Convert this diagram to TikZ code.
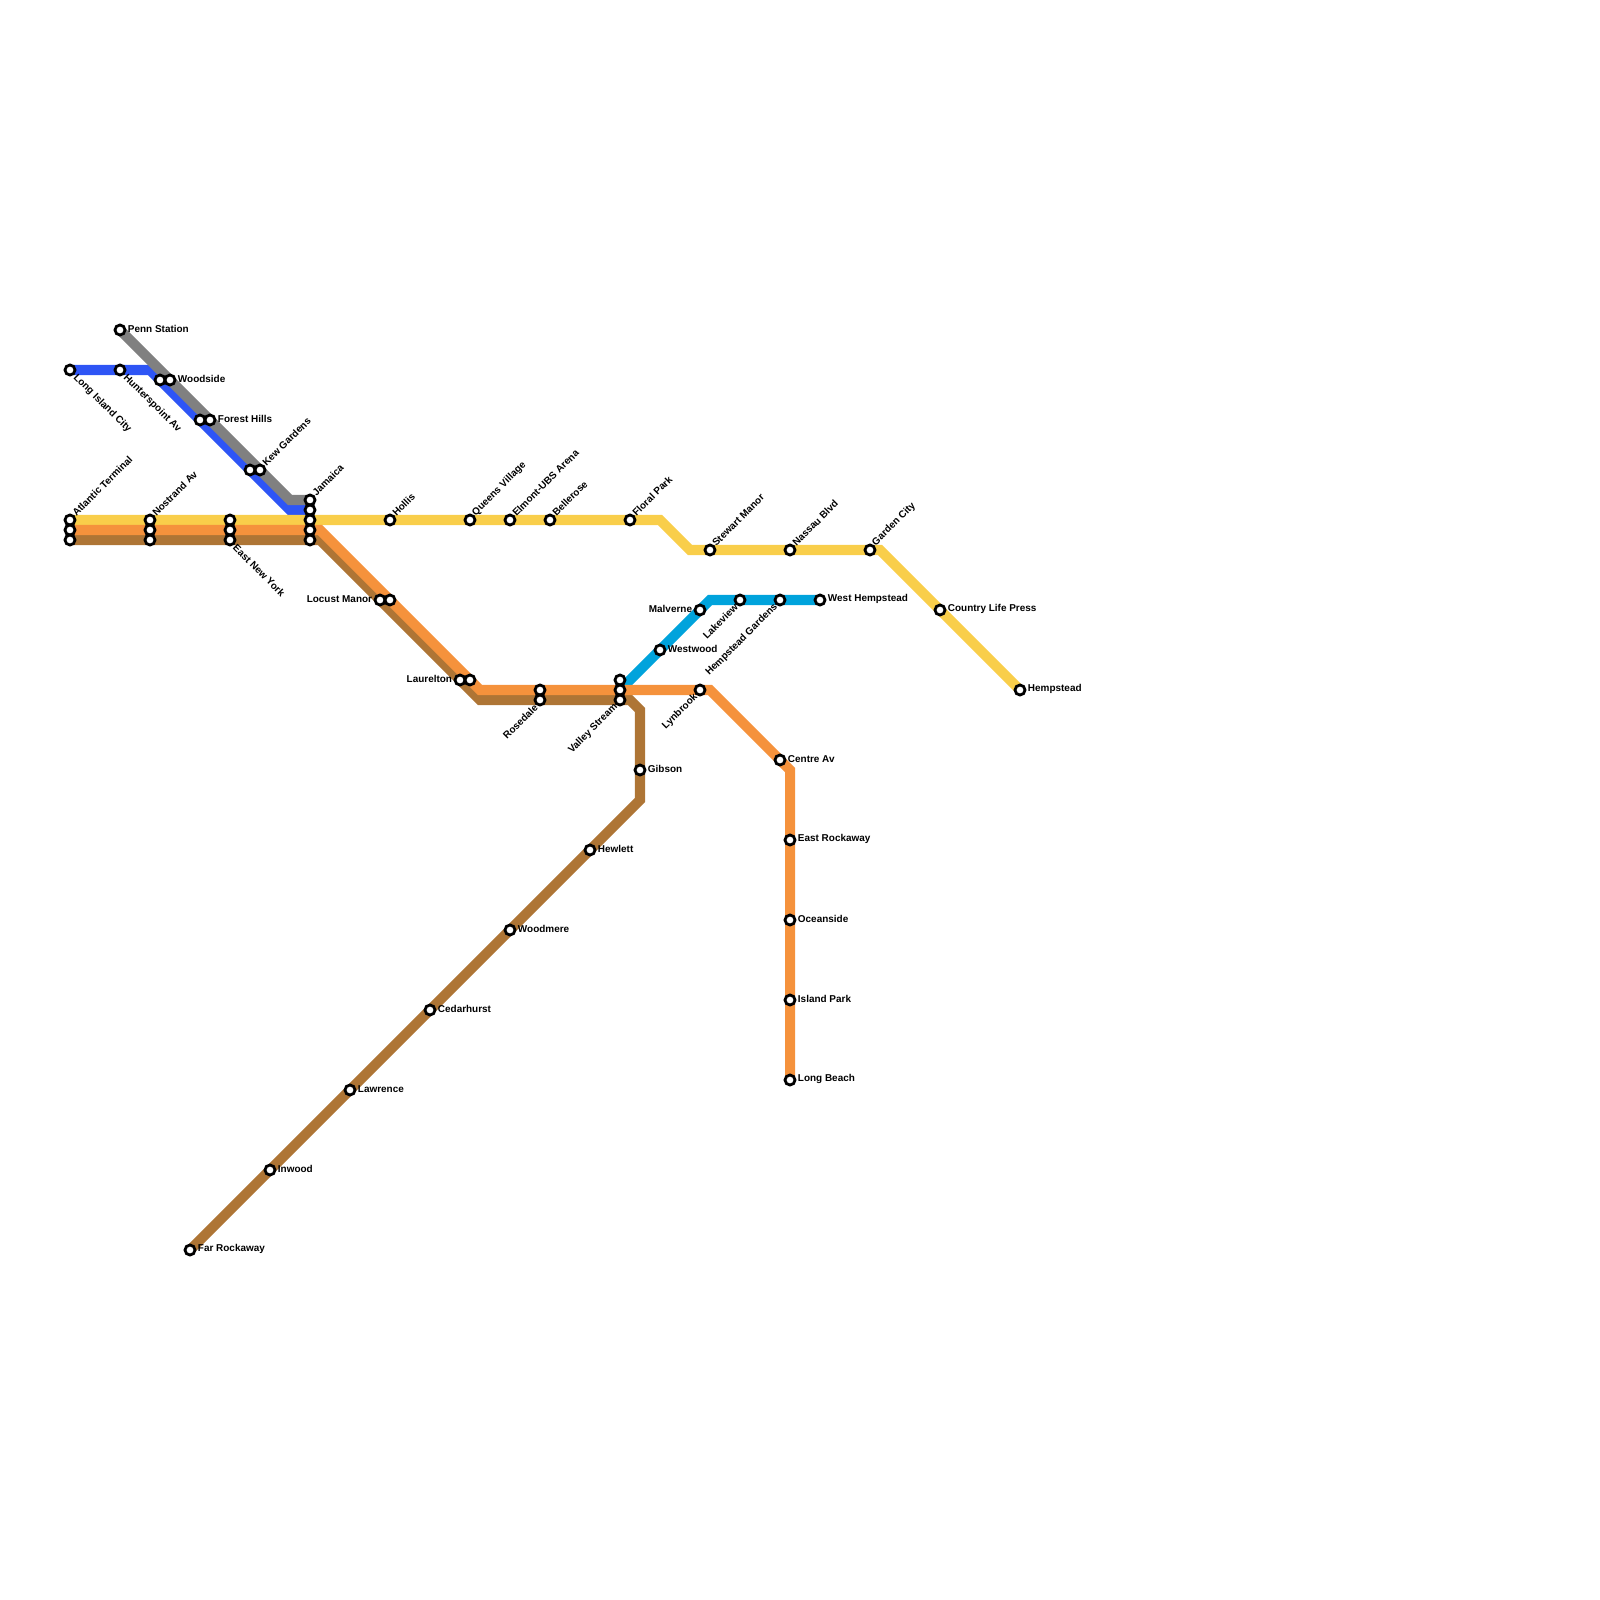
\documentclass[tikz,border=0pt]{standalone}
\usepackage{fontspec}
\setmainfont{Liberation Sans}
\usetikzlibrary{backgrounds}
\definecolor{lineYellow}{HTML}{F9CE4A}
\definecolor{lineOrange}{HTML}{F5923C}
\definecolor{lineBrown}{HTML}{AE7535}
\definecolor{lineBlue}{HTML}{2E55F5}
\definecolor{lineGray}{HTML}{808080}
\definecolor{lineCyan}{HTML}{00A3DC}
\begin{document}
\begin{tikzpicture}[
    x=0.01cm, y=-0.01cm,
    stn/.style={draw=black, fill=white, circle, line width=0.8pt, minimum size=0.1cm, inner sep=0pt, outer sep=0pt},
    route/.style={line width=2.85pt},
    lblE/.style={label={[lbl, anchor=west, xshift=0.0225cm, yshift=0.006cm]0:#1}},
    lblW/.style={label={[lbl, anchor=east, xshift=-0.0225cm, yshift=0.006cm]180:#1}},
    lblNE/.style={label={[lbl, rotate=45, anchor=west, xshift=0.012cm, yshift=0.012cm]45:#1}},
    lblSE/.style={label={[lbl, rotate=-45, anchor=west, xshift=0.022cm, yshift=-0.009cm]-45:#1}},
    lblSW/.style={label={[lbl, rotate=45, anchor=east, xshift=-0.012cm, yshift=-0.012cm]225:#1}},
    lbl/.style={inner sep=0pt, font=\fontsize{2.83}{3.4}\selectfont\bfseries}
  ]
    \useasboundingbox (0,0) rectangle (1600,1600);
    % stations, city end
    \node[stn, lblNE=Atlantic Terminal] (atlanticA) at (70,520) {};
    \node[stn] (atlanticB) at (70,530) {};
    \node[stn] (atlanticC) at (70,540) {};
    \node[stn, lblNE=Nostrand Av] (nostrandA) at (150,520) {};
    \node[stn] (nostrandB) at (150,530) {};
    \node[stn] (nostrandC) at (150,540) {};
    \node[stn] (enyA) at (230,520) {};
    \node[stn] (enyB) at (230,530) {};
    \node[stn, lblSE=East New York] (enyC) at (230,540) {};
    \node[stn, lblSE=Long Island City] (lic) at (70,370) {};
    \node[stn, lblSE=Hunterspoint Av] (hunters) at (120,370) {};
    \node[stn, lblE=Penn Station] (penn) at (120,330) {};
    \node[stn] (woodsideA) at (160,380) {};
    \node[stn, lblE=Woodside] (woodsideB) at (170,380) {};
    \node[stn] (forestA) at (200,420) {};
    \node[stn, lblE=Forest Hills] (forestB) at (210,420) {};
    \node[stn] (kewA) at (250,470) {};
    \node[stn, lblNE=Kew Gardens] (kewB) at (260,470) {};
    \node[stn, lblNE=Jamaica] (jamaicaA) at (310,500) {};
    \node[stn] (jamaicaB) at (310,510) {};
    \node[stn] (jamaicaC) at (310,520) {};
    \node[stn] (jamaicaD) at (310,530) {};
    \node[stn] (jamaicaE) at (310,540) {};
    % yellow branch
    \node[stn, lblNE=Hollis] (hollis) at (390,520) {};
    \node[stn, lblNE=Queens Village] (queens) at (470,520) {};
    \node[stn, lblNE=Elmont-UBS Arena] (elmont) at (510,520) {};
    \node[stn, lblNE=Bellerose] (bellerose) at (550,520) {};
    \node[stn, lblNE=Floral Park] (floral) at (630,520) {};
    \node[stn, lblNE=Stewart Manor] (stewart) at (710,550) {};
    \node[stn, lblNE=Nassau Blvd] (nassau) at (790,550) {};
    \node[stn, lblNE=Garden City] (garden) at (870,550) {};
    \node[stn, lblE=Country Life Press] (country) at (940,610) {};
    \node[stn, lblE=Hempstead] (hempstead) at (1020,690) {};
    % south shore
    \node[stn, lblW=Locust Manor] (locustA) at (380,600) {};
    \node[stn] (locustB) at (390,600) {};
    \node[stn, lblW=Laurelton] (laureltonA) at (460,680) {};
    \node[stn] (laureltonB) at (470,680) {};
    \node[stn] (rosedaleA) at (540,690) {};
    \node[stn, lblSW=Rosedale] (rosedaleB) at (540,700) {};
    \node[stn] (valleyA) at (620,680) {};
    \node[stn] (valleyB) at (620,690) {};
    \node[stn, lblSW=Valley Stream] (valleyC) at (620,700) {};
    % cyan branch
    \node[stn, lblE=Westwood] (westwood) at (660,650) {};
    \node[stn, lblW=Malverne] (malverne) at (700,610) {};
    \node[stn, lblSW=Lakeview] (lakeview) at (740,600) {};
    \node[stn, lblSW=Hempstead Gardens] (hgardens) at (780,600) {};
    \node[stn, lblE=West Hempstead] (whempstead) at (820,600) {};
    % orange branch
    \node[stn, lblSW=Lynbrook] (lynbrook) at (700,690) {};
    \node[stn, lblE=Centre Av] (centre) at (780,760) {};
    \node[stn, lblE=East Rockaway] (erockaway) at (790,840) {};
    \node[stn, lblE=Oceanside] (oceanside) at (790,920) {};
    \node[stn, lblE=Island Park] (island) at (790,1000) {};
    \node[stn, lblE=Long Beach] (longbeach) at (790,1080) {};
    % brown branch
    \node[stn, lblE=Gibson] (gibson) at (640,770) {};
    \node[stn, lblE=Hewlett] (hewlett) at (590,850) {};
    \node[stn, lblE=Woodmere] (woodmere) at (510,930) {};
    \node[stn, lblE=Cedarhurst] (cedarhurst) at (430,1010) {};
    \node[stn, lblE=Lawrence] (lawrence) at (350,1090) {};
    \node[stn, lblE=Inwood] (inwood) at (270,1170) {};
    \node[stn, lblE=Far Rockaway] (far) at (190,1250) {};
    % bends
    \coordinate (bendBlueA) at (150,370);
    \coordinate (bendBlueB) at (290,510);
    \coordinate (bendGray) at (290,500);
    \coordinate (bendYellowA) at (660,520);
    \coordinate (bendYellowB) at (690,550);
    \coordinate (bendYellowC) at (880,550);
    \coordinate (bendOrangeA) at (320,530);
    \coordinate (bendOrangeB) at (480,690);
    \coordinate (bendOrangeC) at (710,690);
    \coordinate (bendOrangeD) at (790,770);
    \coordinate (bendBrownA) at (320,540);
    \coordinate (bendBrownB) at (480,700);
    \coordinate (bendBrownC) at (630,700);
    \coordinate (bendBrownD) at (640,710);
    \coordinate (bendBrownE) at (640,800);
    \coordinate (bendCyan) at (710,600);
    % the lines go under the stations
    \begin{scope}[on background layer]
      \draw[route, lineCyan] (valleyB.center) -- (bendCyan) -- (whempstead.center);
      \draw[route, lineBlue] (lic.center) -- (bendBlueA) -- (bendBlueB) -- (jamaicaB.center);
      \draw[route, lineGray] (penn.center) -- (bendGray) -- (jamaicaA.center);
      \draw[route, lineYellow] (atlanticA.center) -- (bendYellowA) -- (bendYellowB) -- (bendYellowC) -- (hempstead.center);
      \draw[route, lineBrown] (atlanticC.center) -- (bendBrownA) -- (bendBrownB) -- (bendBrownC) -- (bendBrownD) -- (bendBrownE) -- (far.center);
      \draw[route, lineOrange] (atlanticB.center) -- (bendOrangeA) -- (bendOrangeB) -- (bendOrangeC) -- (bendOrangeD) -- (longbeach.center);
    \end{scope}
  \end{tikzpicture}
\end{document}
